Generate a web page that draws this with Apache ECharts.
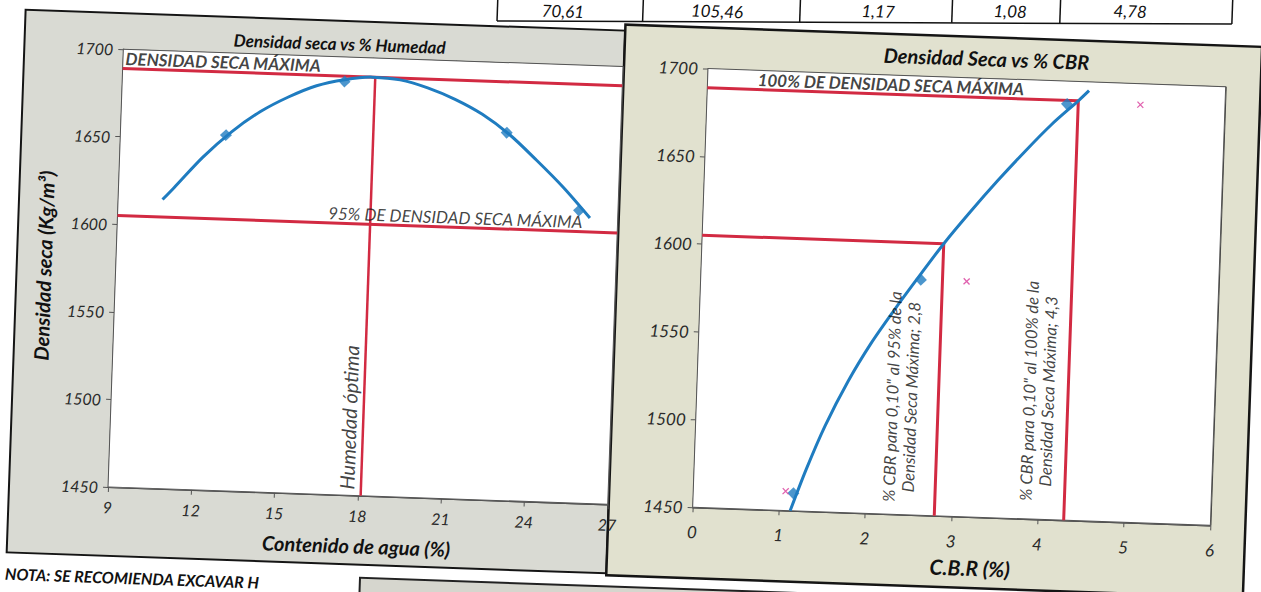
<!DOCTYPE html>
<html>
<head>
<meta charset="utf-8">
<script src="https://cdn.jsdelivr.net/npm/echarts@6/dist/echarts.min.js"></script>
<style>
  html, body { margin: 0; padding: 0; background: #fff; overflow: hidden; width: 1261px; height: 592px; }
  #sheet { position: absolute; left: -40px; top: -40px; width: 1341px; height: 672px;
           transform: rotate(2deg); transform-origin: 670.5px 336px; }
</style>
</head>
<body>
<div id="sheet"></div>
<script>
// ---------- data ----------
const densityTicks  = [1450, 1500, 1550, 1600, 1650, 1700];
const moistureTicks = [9, 12, 15, 18, 21, 24, 27];
const cbrTicks      = [0, 1, 2, 3, 4, 5, 6];

// Proctor compaction: water content (%) vs dry density (kg/m3)
const compactionMoisture = [12.8, 17.0, 22.9, 25.6];
const compactionDensity  = [1653, 1686, 1660, 1617];
// polynomial trend line
const trendMoisture = [10.6, 11, 12, 13, 14, 15, 16, 17, 18, 19, 20, 21, 22, 23, 24, 25, 26];
const trendDensity  = [1615, 1622, 1640, 1655, 1667, 1676, 1683, 1687, 1689, 1688, 1684, 1678, 1670, 1659, 1645, 1630, 1613];

const maxDryDensity   = 1689;
const dryDensity95    = 1605;
const optimumMoisture = 18.1;

// CBR specimens: CBR at 0.10" (diamonds) and at 0.20" (crosses)
const cbr010        = [1.16, 2.55, 4.17];
const cbr010Density = [1460, 1584, 1687];
const cbr020        = [1.07, 3.08, 5.02];
const cbr020Density = [1461, 1584, 1688];
// trend line of CBR 0.10" vs dry density
const cbrTrend        = [1.13, 1.3, 1.5, 1.75, 2.0, 2.25, 2.5, 2.8, 3.1, 3.4, 3.7, 4.0, 4.3, 4.42];
const cbrTrendDensity = [1450, 1474, 1499, 1525, 1547, 1566, 1584, 1605, 1624, 1642, 1659, 1675, 1689, 1695];
const cbrAt95  = 2.8;
const cbrAt100 = 4.3;

// last row of the results table above the charts
const tableRow = ['70,61', '105,46', '1,17', '1,08', '4,78'];

// ---------- styling ----------
const FONT = 'Lato, "Noto Sans", "DejaVu Sans", sans-serif';
const BLUE = '#1f7cc0';
const RED = '#d22a42';
const MAGENTA = '#d8399a';
const OX = 40, OY = 40;   // margin around the page inside the tilted sheet

const pairs = (xs, ys) => xs.map((x, i) => [x, ys[i]]);

const tickLabel = (size, margin) => ({ color: '#2a2a2a', fontSize: size, fontStyle: 'italic', fontFamily: FONT,
                                       margin, formatter: v => String(v) });
const axisName = (size, extra) => Object.assign({ color: '#111', fontSize: size, fontWeight: 'bold',
                                                  fontStyle: 'italic', fontFamily: FONT }, extra);

function valueAxis(ticks, gridIndex, extra) {
  return Object.assign({
    type: 'value', gridIndex,
    min: ticks[0], max: ticks[ticks.length - 1], interval: ticks[1] - ticks[0],
    axisLine: { show: true, onZero: false, lineStyle: { color: '#555', width: 1.2 } },
    axisTick: { show: true, length: 5, lineStyle: { color: '#555' } },
    splitLine: { show: true, lineStyle: { color: '#3c3c3c', width: 1.1 } },
    axisLabel: tickLabel(16, 10),
    nameTextStyle: axisName(20)
  }, extra);
}

function redLine(idx, pts, width) {
  return { type: 'line', xAxisIndex: idx, yAxisIndex: idx, data: pts, symbol: 'none', silent: true,
           lineStyle: { color: RED, width: width || 3 }, z: 3 };
}

function note(value, text, lbl) {
  return { value, label: Object.assign({ show: true, formatter: text, color: '#111', fontFamily: FONT,
           fontStyle: 'italic', fontSize: 17 }, lbl) };
}

function notes(idx, items) {
  return { type: 'scatter', xAxisIndex: idx, yAxisIndex: idx, symbolSize: 1, silent: true, z: 6,
           itemStyle: { color: 'rgba(0,0,0,0)' }, data: items };
}

const CROSS = 'path://M0,0L10,10M10,0L0,10';

// table ruling: bottom edge and column separators (unrotated sheet pixels)
const tableLeft = 487.5, tableRight = 1222, tableYLeft = 25.8, tableYRight = 3.2;
const tableBottomAt = x => tableYLeft + (x - tableLeft) / (tableRight - tableLeft) * (tableYRight - tableYLeft);

const option = {
  animation: false,
  grid: [
    { left: 115 + OX, top: 67 + OY, width: 500, height: 438, show: true, backgroundColor: '#fff',
      borderColor: '#555', borderWidth: 1, z: 1 },
    { left: 700 + OX, top: 66 + OY, width: 518, height: 439, show: true, backgroundColor: '#fff',
      borderColor: '#555', borderWidth: 1, z: 1 }
  ],
  xAxis: [
    valueAxis(moistureTicks, 0, { name: 'Contenido de agua (%)', nameLocation: 'middle', nameGap: 40,
      axisLabel: tickLabel(16, 12) }),
    valueAxis(cbrTicks, 1, { name: 'C.B.R (%)', nameLocation: 'middle', nameGap: 40,
      axisLabel: tickLabel(17, 16), nameTextStyle: axisName(21, { padding: [0, 0, 0, 40] }) })
  ],
  yAxis: [
    valueAxis(densityTicks, 0, { name: 'Densidad seca (Kg/m³)', nameLocation: 'middle', nameGap: 62 }),
    valueAxis(densityTicks, 1, { axisLabel: tickLabel(17, 10) })
  ],
  graphic: [
    // chart panels
    { type: 'rect', z: -100, silent: true, shape: { x: 16 + OX, y: 31 + OY, width: 600, height: 543 },
      style: { fill: '#d9dad3', stroke: '#151515', lineWidth: 2 } },
    { type: 'rect', z: -99, silent: true, shape: { x: 616 + OX, y: 25 + OY, width: 637, height: 551 },
      style: { fill: '#e1e1cf', stroke: '#151515', lineWidth: 2.5 } },
    // chart titles
    { type: 'text', z: 50, x: 331 + OX, y: 54 + OY, style: { text: 'Densidad seca vs % Humedad',
      align: 'center', verticalAlign: 'middle', fill: '#111', font: 'italic bold 17px ' + FONT } },
    { type: 'text', z: 50, x: 978 + OX, y: 46 + OY, style: { text: 'Densidad Seca vs % CBR',
      align: 'center', verticalAlign: 'middle', fill: '#111', font: 'italic bold 20px ' + FONT } },
    // table row above
    { type: 'polyline', z: 50, silent: true,
      shape: { points: [[tableLeft + OX, tableYLeft + OY], [tableRight + OX, tableYRight + OY]] },
      style: { stroke: '#111', lineWidth: 1.5, fill: null } },
    ...[487.5, 633, 790, 942, 1050, 1222].map(x => ({
      type: 'polyline', z: 50, silent: true,
      shape: { points: [[x + OX, 0], [x + OX, tableBottomAt(x) + OY]] },
      style: { stroke: '#111', lineWidth: 1.5, fill: null } })),
    ...tableRow.map((t, i) => ({
      type: 'text', z: 50, x: [553, 707, 868, 1000, 1120][i] + OX, y: [13.5, 8.1, 2.5, -2.1, -6.3][i] + OY,
      style: { text: t, align: 'center', verticalAlign: 'middle', fill: '#111', font: 'italic 17px ' + FONT } })),
    // note and box below
    { type: 'text', z: 50, x: 15 + OX, y: 595 + OY, style: { text: 'NOTA: SE RECOMIENDA EXCAVAR H',
      align: 'left', verticalAlign: 'middle', fill: '#111', font: 'italic bold 16px ' + FONT } },
    { type: 'rect', z: 50, silent: true, shape: { x: 370 + OX, y: 587 + OY, width: 950, height: 80 },
      style: { fill: '#d6d6ce', stroke: '#222', lineWidth: 2 } }
  ],
  series: [
    // ---- Densidad seca vs % Humedad ----
    redLine(0, [[moistureTicks[0], maxDryDensity], [moistureTicks[6], maxDryDensity]], 3),
    redLine(0, [[moistureTicks[0], dryDensity95], [moistureTicks[6], dryDensity95]], 3),
    redLine(0, [[optimumMoisture, densityTicks[0]], [optimumMoisture, maxDryDensity]], 2.5),
    { type: 'line', xAxisIndex: 0, yAxisIndex: 0, data: pairs(trendMoisture, trendDensity), smooth: 0.3,
      symbol: 'none', lineStyle: { color: BLUE, width: 3 }, z: 4, silent: true },
    { type: 'scatter', xAxisIndex: 0, yAxisIndex: 0, data: pairs(compactionMoisture, compactionDensity),
      symbol: 'diamond', symbolSize: 12, itemStyle: { color: BLUE }, z: 5, silent: true },
    notes(0, [
      note([moistureTicks[0], maxDryDensity], 'DENSIDAD SECA MÁXIMA',
        { position: [3, -1], align: 'left', verticalAlign: 'bottom', fontWeight: 'bold' }),
      note([25.75, dryDensity95], '95% DE DENSIDAD SECA MÁXIMA',
        { position: [0, -1], align: 'right', verticalAlign: 'bottom' }),
      note([optimumMoisture, 1453], 'Humedad óptima',
        { position: [-4, 0], align: 'left', verticalAlign: 'bottom', rotate: 90, fontSize: 20 })
    ]),
    // ---- Densidad Seca vs % CBR ----
    redLine(1, [[cbrTicks[0], maxDryDensity], [cbrAt100, maxDryDensity], [cbrAt100, densityTicks[0]]], 3),
    redLine(1, [[cbrTicks[0], dryDensity95], [cbrAt95, dryDensity95], [cbrAt95, densityTicks[0]]], 3),
    { type: 'line', xAxisIndex: 1, yAxisIndex: 1, data: pairs(cbrTrend, cbrTrendDensity), smooth: 0.3,
      symbol: 'none', lineStyle: { color: BLUE, width: 3 }, z: 4, silent: true },
    { type: 'scatter', xAxisIndex: 1, yAxisIndex: 1, data: pairs(cbr010, cbr010Density),
      symbol: 'diamond', symbolSize: 12, itemStyle: { color: BLUE }, z: 5, silent: true },
    { type: 'scatter', xAxisIndex: 1, yAxisIndex: 1, data: pairs(cbr020, cbr020Density),
      symbol: CROSS, symbolSize: 6, itemStyle: { color: 'rgba(0,0,0,0)', borderColor: MAGENTA, borderWidth: 1.3 },
      z: 5, silent: true },
    notes(1, [
      note([0.585, maxDryDensity], '100% DE DENSIDAD SECA MÁXIMA',
        { position: [0, -1], align: 'left', verticalAlign: 'bottom', fontWeight: 'bold' }),
      note([2.375, 1517], '% CBR para 0,10" al 95% de la\nDensidad Seca Máxima; 2,8',
        { position: 'inside', align: 'center', verticalAlign: 'middle', rotate: 90, fontSize: 16.5, lineHeight: 19 }),
      note([3.96, 1523], '% CBR para 0,10" al 100% de la\nDensidad Seca Máxima; 4,3',
        { position: 'inside', align: 'center', verticalAlign: 'middle', rotate: 90, fontSize: 16.5, lineHeight: 19 })
    ])
  ]
};

const chart = echarts.init(document.getElementById('sheet'), null, { renderer: 'svg' });
chart.setOption(option);
</script>
</body>
</html>
